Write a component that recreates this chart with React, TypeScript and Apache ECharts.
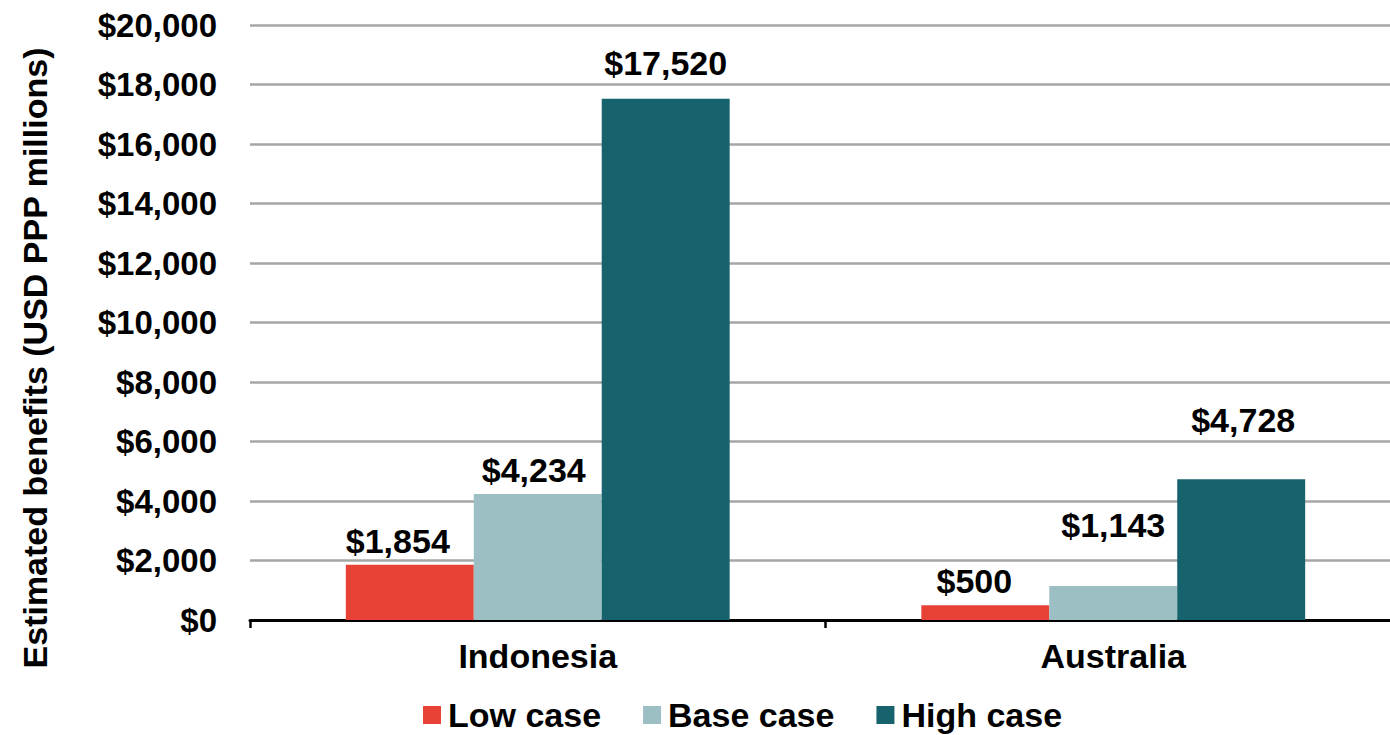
import React, { useEffect, useRef } from "react";
import * as echarts from "echarts";

const categories = ["Indonesia", "Australia"];
const seriesNames = ["Low case", "Base case", "High case"];
const lowCase = [1854, 500];
const baseCase = [4234, 1143];
const highCase = [17520, 4728];
const yTicks = [0, 2000, 4000, 6000, 8000, 10000, 12000, 14000, 16000, 18000, 20000];
const colors = ["#E84136", "#9BBFC3", "#17636D"];
// label offsets (px) per series per category, as placed in the reference
const labelLift = [
  [[-12, 0], [-11, 0]],
  [[-4, 0], [0, -37]],
  [[0, -12], [2, -35]],
];

const fmt = (v: number) => "$" + v.toLocaleString("en-US");

export default function App() {
  const ref = useRef<HTMLDivElement>(null);
  useEffect(() => {
    document.body.style.margin = "0";
    const chart = echarts.init(ref.current!, null, { renderer: "svg" });
    const font = "'Liberation Sans', Arial, sans-serif";
    const data = [lowCase, baseCase, highCase];
    chart.setOption({
      animation: false,
      textStyle: { fontFamily: font },
      grid: { left: 250, top: 25, width: 1151, bottom: 115, containLabel: false },
      legend: {
        top: 698,
        left: 423,
        itemWidth: 18,
        itemHeight: 18,
        itemGap: 42,
        icon: "rect",
        padding: 0,
        textStyle: {
          fontSize: 34,
          fontWeight: "bold",
          color: "#000",
          fontFamily: font,
          padding: [0, 0, 0, 2],
        },
        data: seriesNames,
      },
      graphic: [
        {
          type: "text",
          x: 35,
          y: 358,
          rotation: Math.PI / 2,
          style: {
            text: "Estimated benefits (USD PPP millions)",
            font: `bold 34px ${font}`,
            fill: "#000",
            align: "center",
            verticalAlign: "middle",
          },
        },
      ],
      xAxis: {
        type: "category",
        data: categories,
        axisLine: { show: true, lineStyle: { color: "#000", width: 3 } },
        axisTick: { show: true, length: 8, lineStyle: { color: "#000", width: 2.5 } },
        axisLabel: { margin: 19, fontSize: 34, fontWeight: "bold", color: "#000", fontFamily: font },
      },
      yAxis: {
        type: "value",
        min: yTicks[0],
        max: yTicks[yTicks.length - 1],
        interval: yTicks[1] - yTicks[0],
        axisLine: { show: false },
        axisTick: { show: false },
        splitLine: { show: true, lineStyle: { color: "#A6A6A6", width: 2.5 } },
        axisLabel: {
          margin: 33,
          fontSize: 33,
          fontWeight: "bold",
          color: "#000",
          fontFamily: font,
          formatter: (v: number) => fmt(v),
        },
      },
      series: seriesNames.map((name, si) => ({
        name,
        type: "bar",
        barGap: "0%",
        barCategoryGap: "33.3%",
        itemStyle: { color: colors[si] },
        data: data[si].map((v, ci) => ({
          value: v,
          label: {
            show: true,
            position: "top",
            distance: 7,
            offset: labelLift[si][ci],
            formatter: (p: any) => fmt(p.value),
            fontSize: 34,
            fontWeight: "bold",
            color: "#000",
            fontFamily: font,
          },
        })),
      })),
    });
    return () => chart.dispose();
  }, []);
  return (
    <div style={{ width: 1390, height: 735, overflow: "hidden", position: "relative" }}>
      <div ref={ref} style={{ width: 1402, height: 735 }} />
    </div>
  );
}
